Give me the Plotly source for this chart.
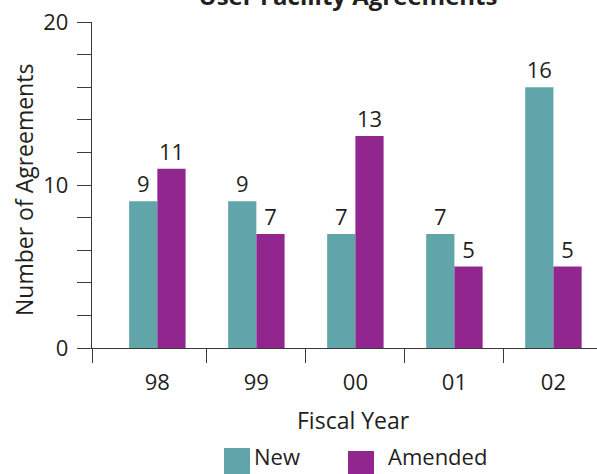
import plotly.graph_objects as go

# Fiscal years and agreement counts
years = ["98", "99", "00", "01", "02"]
new_agreements = [9, 9, 7, 7, 16]
amended_agreements = [11, 7, 13, 5, 5]
y_ticks = [0, 10, 20]

TEAL = "#5FA5AA"
PURPLE = "#92268F"
INK = "#231F20"
AXIS = "#3A3A3A"
FONT = "Open Sans"

W, H = 597, 474
ML, MR, MT, MB = 92, 0, 22, 126
PW, PH = W - ML - MR, H - MT - MB


def px_x(p):
    return (p - ML) / PW


def px_y(p):
    return (H - MB - p) / PH


xpos = list(range(len(years)))
x_range = [-0.66, 4.44]

fig = go.Figure()
fig.add_bar(x=xpos, y=new_agreements, name="New", marker_color=TEAL,
            marker_line_width=0, text=new_agreements, textposition="outside",
            cliponaxis=False, showlegend=False)
fig.add_bar(x=xpos, y=amended_agreements, name="Amended", marker_color=PURPLE,
            marker_line_width=0, text=amended_agreements, textposition="outside",
            cliponaxis=False, showlegend=False)

fig.update_traces(textfont=dict(family=FONT, size=22, color=INK))

fig.update_layout(
    width=W, height=H,
    margin=dict(l=ML, r=MR, t=MT, b=MB, pad=0),
    paper_bgcolor="white", plot_bgcolor="white",
    barmode="group", bargap=0.43, bargroupgap=0,
    font=dict(family=FONT, size=22, color=INK),
    title=dict(text="<b>User Facility Agreements</b>", x=348 / W, xanchor="center",
               y=1 - 5 / H, yanchor="bottom", yref="container",
               font=dict(family=FONT, size=24, color=INK)),
)

fig.update_xaxes(
    range=x_range, tickmode="array", tickvals=xpos, ticktext=years,
    ticks="", showgrid=False, zeroline=False,
    showline=True, linecolor=AXIS, linewidth=1.4,
    ticklabelstandoff=14,
    tickfont=dict(family=FONT, size=22, color=INK),
    minor=dict(tickmode="array",
               tickvals=[x_range[0] + 0.002] + [i + 0.5 for i in xpos[:-1]],
               ticks="outside", ticklen=14, tickwidth=1.4, tickcolor=AXIS,
               showgrid=False),
)

fig.update_yaxes(
    range=[0, 20], tickmode="array", tickvals=y_ticks,
    ticks="outside", ticklen=14, tickwidth=1.4, tickcolor=AXIS,
    showgrid=False, zeroline=False,
    showline=True, linecolor=AXIS, linewidth=1.4,
    ticklabelstandoff=4,
    tickfont=dict(family=FONT, size=22, color=INK),
    minor=dict(dtick=2, ticks="outside", ticklen=14, tickwidth=1.4,
               tickcolor=AXIS, showgrid=False),
)

annotations = [
    dict(text="Number of Agreements", textangle=-90, x=px_x(24), y=px_y(190),
         xref="paper", yref="paper", xanchor="center", yanchor="middle",
         showarrow=False, font=dict(family=FONT, size=23, color=INK)),
    dict(text="Fiscal Year", x=px_x(353), y=px_y(420),
         xref="paper", yref="paper", xanchor="center", yanchor="middle",
         showarrow=False, font=dict(family=FONT, size=23, color=INK)),
]

# Legend swatches and labels
legend_items = [("New", TEAL, 224, 448, 252), ("Amended", PURPLE, 348, 451, 386)]
shapes = []
for label, color, sx, sy, tx in legend_items:
    shapes.append(dict(type="rect", xref="paper", yref="paper",
                       x0=px_x(sx), x1=px_x(sx + 26), y0=px_y(sy), y1=px_y(H + 2),
                       fillcolor=color, line_width=0))
    annotations.append(dict(text=label, x=px_x(tx), y=px_y(H - 1),
                            xref="paper", yref="paper", xanchor="left",
                            yanchor="bottom", showarrow=False,
                            font=dict(family=FONT, size=22, color=INK)))

fig.update_layout(annotations=annotations, shapes=shapes)

fig.write_html("out.html")
